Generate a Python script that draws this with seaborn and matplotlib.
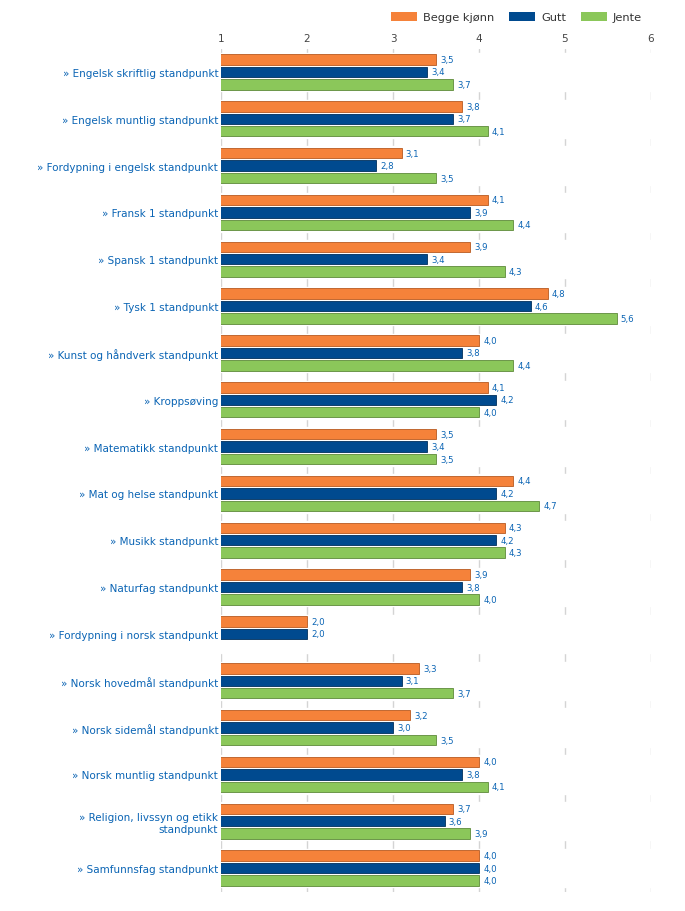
import numpy as np
import pandas as pd
import matplotlib.pyplot as plt
import seaborn as sns
from matplotlib.patches import Patch

subjects = [
    "Engelsk skriftlig standpunkt",
    "Engelsk muntlig standpunkt",
    "Fordypning i engelsk standpunkt",
    "Fransk 1 standpunkt",
    "Spansk 1 standpunkt",
    "Tysk 1 standpunkt",
    "Kunst og håndverk standpunkt",
    "Kroppsøving",
    "Matematikk standpunkt",
    "Mat og helse standpunkt",
    "Musikk standpunkt",
    "Naturfag standpunkt",
    "Fordypning i norsk standpunkt",
    "Norsk hovedmål standpunkt",
    "Norsk sidemål standpunkt",
    "Norsk muntlig standpunkt",
    "Religion, livssyn og etikk\nstandpunkt",
    "Samfunnsfag standpunkt",
]
begge = [3.5, 3.8, 3.1, 4.1, 3.9, 4.8, 4.0, 4.1, 3.5, 4.4, 4.3, 3.9, 2.0, 3.3, 3.2, 4.0, 3.7, 4.0]
gutt = [3.4, 3.7, 2.8, 3.9, 3.4, 4.6, 3.8, 4.2, 3.4, 4.2, 4.2, 3.8, 2.0, 3.1, 3.0, 3.8, 3.6, 4.0]
jente = [3.7, 4.1, 3.5, 4.4, 4.3, 5.6, 4.4, 4.0, 3.5, 4.7, 4.3, 4.0, np.nan, 3.7, 3.5, 4.1, 3.9, 4.0]
series = ["Begge kjønn", "Gutt", "Jente"]
colors = ["#f5823a", "#004a8f", "#8bc75a"]
edges = ["#b85a20", "#002f5c", "#5e8a3a"]
label_color = "#0a64b4"

labels = ["» " + s for s in subjects]
df = pd.DataFrame({
    "fag": labels * 3,
    "serie": np.repeat(series, len(labels)),
    "verdi": begge + gutt + jente,
})

sns.set_style("white")
fig = plt.figure(figsize=(6.85, 9.12), dpi=100)
ax = fig.add_axes([221 / 685, 1 - 892.5 / 912, 430 / 685, (892.5 - 49.5) / 912])

# grid lines, hidden behind a white band for each group
for x in range(1, 7):
    ax.axvline(x, color="#d4d4d4", lw=1, zorder=0)
for i in range(len(labels)):
    ax.axhspan(i - 0.41, i + 0.41, color="white", zorder=0.5)

sns.barplot(data=df, y="fag", x="verdi", hue="serie", palette=colors, saturation=1,
            orient="h", width=0.8, gap=0.16, ax=ax, legend=False, zorder=2)

for cont, ec in zip(ax.containers, edges):
    for bar in cont:
        bar.set_edgecolor(ec)
        bar.set_linewidth(0.6)
    vals = [b.get_width() for b in cont]
    txt = ["" if np.isnan(v) else f"{v:.1f}".replace(".", ",") for v in vals]
    ax.bar_label(cont, labels=txt, padding=3, fontsize=6.2, color=label_color)

ax.set_xlim(1, 6)
ax.set_ylim(len(labels) - 0.5, -0.5)
ax.xaxis.tick_top()
ax.set_xticks(range(1, 7))
ax.tick_params(axis="x", length=0, pad=4, labelsize=7.5, labelcolor="#444444")
ax.tick_params(axis="y", length=0, pad=2, labelsize=7.5, labelcolor=label_color)
ax.set_xlabel("")
ax.set_ylabel("")
for s in ax.spines.values():
    s.set_visible(False)

handles = [Patch(facecolor=c, edgecolor="none") for c in colors]
fig.legend(handles, series, loc="center right", bbox_to_anchor=(652 / 685, 1 - 18 / 912),
           ncol=3, frameon=False, fontsize=8.2, handlelength=2.3, handleheight=0.9,
           columnspacing=1.3, handletextpad=0.5, labelcolor="#333333")

fig.savefig("out.png", dpi=100)
